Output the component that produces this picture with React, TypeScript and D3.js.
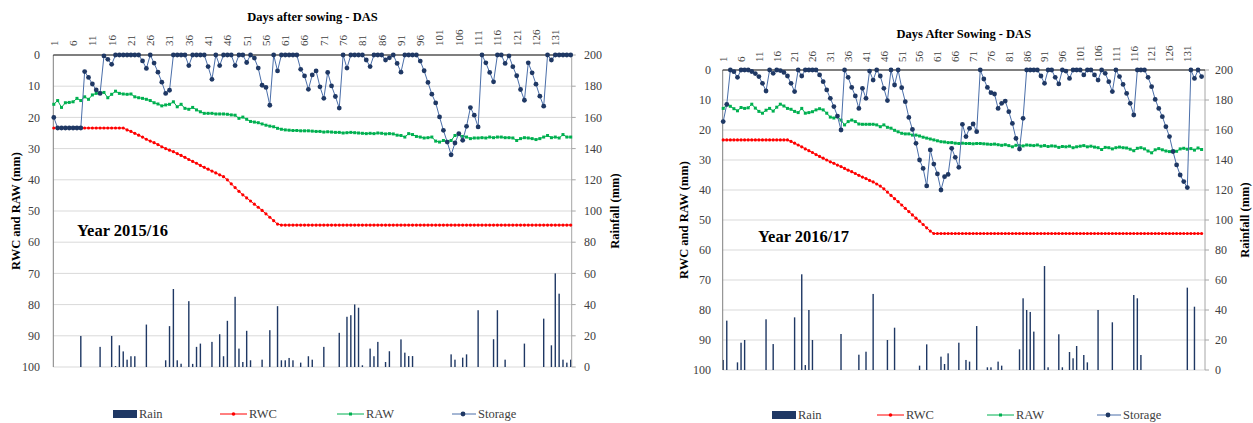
import * as d3 from "d3";

// ---- Year 2015/16 (left chart) ----
// Storage on the rainfall axis (mm, 0-200)
const storage2015 = [
  160, 153.2, 153.2, 153.2, 153.2, 153.2, 153.2, 153.2, 189.4, 185.6,
  181.4, 177.6, 175.4, 199.4, 197.2, 194, 200, 200, 200, 200,
  200, 200, 200, 196.2, 191.4, 200, 194.8, 189, 182.6, 175.4,
  177.4, 200, 200, 200, 200, 193.2, 200, 200, 200, 200,
  192.6, 184.4, 200, 193.2, 200, 200, 200, 193.2, 200, 200,
  195.2, 200, 198, 191.6, 180.6, 179.2, 167.8, 200, 189.8, 200,
  200, 200, 200, 200, 190.8, 186.6, 178, 187.2, 189.8, 179.6,
  172.2, 188.8, 180.2, 173.4, 166, 200, 191.6, 200, 200, 200,
  200, 196.8, 192.6, 200, 200, 200, 196.8, 198.2, 200, 194.6,
  189, 200, 200, 200, 200, 196.1, 189.9, 182.4, 174.9, 169.3,
  160.3, 151.7, 144.2, 136, 143.6, 149.6, 145.3, 154.3, 166.3, 161.4,
  153.9, 200, 195, 188.8, 182.8, 200, 200, 194.6, 199.4, 192.5,
  186.7, 177.9, 171, 195, 188.6, 181.3, 173.6, 167.2, 200, 196.8,
  200, 200, 200, 200, 200,
];
// RWC and RAW on the depth axis (mm, 0-100 downwards)
const rwc2015 = [
  23.4, 23.4, 23.4, 23.4, 23.4, 23.4, 23.4, 23.4, 23.4, 23.4,
  23.4, 23.4, 23.4, 23.4, 23.4, 23.4, 23.4, 23.4, 23.4, 24.0,
  24.5, 25.1, 25.7, 26.3, 27.0, 27.6, 28.1, 28.7, 29.4, 30.0,
  30.5, 31.0, 31.6, 32.2, 32.8, 33.5, 34.1, 34.7, 35.4, 36.0,
  36.6, 37.2, 37.8, 38.4, 39.0, 40.0, 41.3, 42.5, 43.7, 44.8,
  45.8, 46.8, 47.8, 48.8, 49.8, 50.9, 52.0, 53.1, 54.2, 54.5,
  54.5, 54.5, 54.5, 54.5, 54.5, 54.5, 54.5, 54.5, 54.5, 54.5,
  54.5, 54.5, 54.5, 54.5, 54.5, 54.5, 54.5, 54.5, 54.5, 54.5,
  54.5, 54.5, 54.5, 54.5, 54.5, 54.5, 54.5, 54.5, 54.5, 54.5,
  54.5, 54.5, 54.5, 54.5, 54.5, 54.5, 54.5, 54.5, 54.5, 54.5,
  54.5, 54.5, 54.5, 54.5, 54.5, 54.5, 54.5, 54.5, 54.5, 54.5,
  54.5, 54.5, 54.5, 54.5, 54.5, 54.5, 54.5, 54.5, 54.5, 54.5,
  54.5, 54.5, 54.5, 54.5, 54.5, 54.5, 54.5, 54.5, 54.5, 54.5,
  54.5, 54.5, 54.5, 54.5, 54.5,
];
const raw2015 = [
  15.8, 14.6, 16.8, 15.3, 15.2, 15.0, 13.9, 14.6, 13.4, 14.2,
  12.8, 12.3, 12.1, 12.0, 13.7, 12.6, 11.6, 12.3, 12.5, 12.6,
  12.5, 13.4, 13.7, 13.9, 14.2, 14.6, 15.3, 15.7, 16.3, 16.0,
  15.8, 15.0, 16.6, 15.8, 17.1, 17.4, 16.8, 17.6, 18.2, 18.7,
  18.7, 18.7, 18.9, 18.9, 18.9, 19.0, 19.2, 19.3, 20.3, 19.9,
  20.6, 21.3, 21.5, 21.7, 22.1, 22.5, 22.8, 23.0, 23.5, 23.8,
  24.0, 24.1, 24.2, 24.2, 24.3, 24.3, 24.3, 24.4, 24.5, 24.5,
  24.7, 24.6, 24.7, 24.8, 24.8, 25.0, 24.9, 24.8, 24.9, 25.0,
  25.1, 25.2, 25.1, 25.2, 25.0, 25.1, 25.3, 25.2, 25.3, 25.7,
  25.8, 26.3, 25.2, 25.5, 26.1, 26.3, 26.6, 26.5, 26.3, 27.6,
  27.9, 27.4, 27.7, 27.4, 25.8, 25.5, 26.1, 26.3, 26.8, 26.6,
  26.6, 26.5, 26.6, 26.3, 26.5, 26.3, 26.3, 26.5, 26.5, 26.6,
  27.4, 26.8, 26.5, 26.6, 26.8, 27.1, 26.8, 26.3, 25.8, 26.5,
  26.3, 26.6, 25.5, 26.3, 26.3,
];
const rainDay2015 = [
  8, 13, 16, 17, 18, 19, 20, 21, 22, 25, 30, 31, 32, 33, 34, 36, 37, 38, 39, 42,
  44, 45, 46, 48, 49, 50, 51, 52, 55, 57, 59, 60, 61, 62, 63, 65, 67, 68, 71, 75,
  77, 78, 79, 80, 81, 83, 84, 85, 87, 88, 91, 92, 93, 94, 104, 105, 107, 108, 111, 115,
  116, 118, 123, 128, 130, 131, 132, 133, 134, 135,
];
const rainMm2015 = [
  19.9, 12.9, 19.9, 0.6, 13.9, 10, 4.7, 6.9, 6.9, 27.2, 4.3, 26.2, 50, 4.3, 2.1, 42.2, 2, 12.9, 15, 16.1,
  21, 6.9, 29.6, 45, 11.8, 3.2, 23.2, 4.3, 4.7, 23.6, 39, 4.3, 4.3, 5.8, 4.3, 2.8, 6.9, 4.7, 12.9, 21.9,
  32.2, 33.2, 40.1, 38, 1.1, 11.8, 6.9, 16.1, 3.2, 10.1, 17.7, 9.2, 7, 7, 8.1, 4.7, 6, 8.1, 36.4, 17.8,
  36.4, 4.7, 15, 31, 13.9, 60, 47, 4.7, 2.8, 4.7,
];

// ---- Year 2016/17 (right chart) ----
const storage2016 = [
  165.6, 177.1, 200, 198.9, 195.1, 200, 200, 200, 199, 197.6,
  195.6, 191.1, 186, 200, 197.8, 200, 199.6, 198.4, 196, 191.1,
  185.6, 200, 196, 200, 200, 200, 200, 196.7, 192.2, 186.7,
  181.1, 175.6, 169.3, 160, 200, 195.1, 188.4, 182.7, 174.4, 187.8,
  181.1, 199.3, 193.3, 200, 196, 187.8, 179.6, 200, 190, 200,
  188.2, 178.9, 168.4, 160.4, 151.1, 140, 134.4, 122.7, 146.7, 137.3,
  130.7, 120, 128.9, 130.4, 147.8, 141.8, 135.1, 163.8, 155.6, 161.1,
  164, 158.9, 200, 194, 188.4, 184.9, 184, 174.4, 177.8, 179.3,
  172.2, 164.4, 154.4, 147.3, 167.8, 200, 200, 200, 200, 196,
  191.1, 200, 200, 195.1, 190.7, 200, 199.3, 194.4, 200, 200,
  200, 196.7, 200, 200, 196.7, 193.3, 200, 197.8, 192.2, 185.6,
  200, 195.6, 190.4, 184.4, 177.8, 170, 200, 200, 200, 195.1,
  188.9, 180.4, 174.4, 168.9, 162.2, 155.6, 145.6, 136.7, 130, 125.6,
  121.6, 200, 194.4, 200, 195.6,
];
const rwc2016 = [
  23.3, 23.3, 23.3, 23.3, 23.3, 23.3, 23.3, 23.3, 23.3, 23.3,
  23.3, 23.3, 23.3, 23.3, 23.3, 23.3, 23.3, 23.3, 23.3, 23.8,
  24.4, 25.0, 25.6, 26.3, 26.9, 27.5, 28.2, 28.8, 29.4, 30.0,
  30.6, 31.1, 31.7, 32.2, 32.8, 33.4, 33.9, 34.5, 35.1, 35.7,
  36.2, 36.8, 37.3, 38.0, 38.7, 39.6, 40.7, 41.8, 42.9, 43.9,
  45.0, 46.1, 47.2, 48.3, 49.4, 50.4, 51.5, 52.6, 53.7, 54.5,
  54.5, 54.5, 54.5, 54.5, 54.5, 54.5, 54.5, 54.5, 54.5, 54.5,
  54.5, 54.5, 54.5, 54.5, 54.5, 54.5, 54.5, 54.5, 54.5, 54.5,
  54.5, 54.5, 54.5, 54.5, 54.5, 54.5, 54.5, 54.5, 54.5, 54.5,
  54.5, 54.5, 54.5, 54.5, 54.5, 54.5, 54.5, 54.5, 54.5, 54.5,
  54.5, 54.5, 54.5, 54.5, 54.5, 54.5, 54.5, 54.5, 54.5, 54.5,
  54.5, 54.5, 54.5, 54.5, 54.5, 54.5, 54.5, 54.5, 54.5, 54.5,
  54.5, 54.5, 54.5, 54.5, 54.5, 54.5, 54.5, 54.5, 54.5, 54.5,
  54.5, 54.5, 54.5, 54.5, 54.5,
];
const raw2016 = [
  12.8, 11.7, 12.1, 12.9, 13.6, 12.5, 12.8, 12.6, 11.4, 12.7,
  13.8, 14.4, 13.4, 12.8, 13.7, 12.4, 11.4, 12.0, 12.8, 13.1,
  13.8, 14.2, 12.8, 14.4, 14.2, 13.9, 13.3, 12.9, 13.3, 14.4,
  15.7, 16.0, 15.6, 16.7, 18.3, 17.2, 16.7, 17.2, 18.0, 18.1,
  18.1, 18.1, 18.1, 18.3, 18.9, 18.3, 19.1, 19.4, 20.1, 20.6,
  21.1, 21.3, 21.3, 21.7, 21.7, 22.0, 22.4, 22.7, 23.0, 23.3,
  23.6, 23.9, 24.0, 24.2, 24.2, 24.4, 24.5, 24.4, 24.5, 24.5,
  24.6, 24.5, 24.5, 24.6, 24.7, 24.8, 24.7, 24.9, 25.1, 24.9,
  25.2, 25.6, 25.1, 25.2, 25.3, 25.0, 25.1, 25.2, 25.0, 25.4,
  25.2, 25.5, 25.3, 25.4, 25.8, 25.5, 25.6, 25.4, 25.9, 25.6,
  25.4, 25.2, 25.6, 25.4, 25.7, 25.9, 26.5, 25.8, 25.9, 26.3,
  25.9, 25.7, 25.9, 26.0, 26.4, 26.9, 26.1, 25.9, 26.3, 27.0,
  27.6, 26.6, 26.2, 26.6, 27.0, 27.2, 26.9, 27.1, 26.3, 26.1,
  26.4, 26.2, 26.7, 26.0, 26.5,
];
const rainDay2016 = [
  1, 2, 5, 6, 7, 13, 15, 21, 23, 24, 25, 26, 34, 39, 41, 43, 47, 49, 56, 58,
  62, 63, 64, 67, 69, 70, 72, 75, 76, 78, 79, 84, 85, 86, 87, 88, 91, 92, 95, 96,
  98, 99, 100, 102, 103, 106, 110, 116, 117, 118, 131, 133,
];
const rainMm2016 = [
  6.7, 32.9, 5.1, 18.2, 20, 33.8, 17.3, 35.1, 63.8, 3.3, 40, 20, 24, 10.2, 12.2, 50.7, 20, 28.2, 2.9, 17.1,
  8.9, 4, 11.1, 18.2, 6.7, 5.6, 29.3, 1.8, 1.8, 5.6, 2.9, 13.8, 47.8, 40, 38.7, 25.6, 69.3, 1.8, 23.8, 1.8,
  12, 7.8, 16, 10, 5.1, 40, 31.8, 50, 47.8, 10, 54.9, 42.2,
];

const dasTicks = [1, 6, 11, 16, 21, 26, 31, 36, 41, 46, 51, 56, 61, 66, 71, 76, 81, 86, 91, 96, 101, 106, 111, 116, 121, 126, 131];
const depthTicks = [0, 10, 20, 30, 40, 50, 60, 70, 80, 90, 100];
const rainTicks = [0, 20, 40, 60, 80, 100, 120, 140, 160, 180, 200];

const SERIF = "Liberation Serif, Times New Roman, serif";
const C_RAIN = "#1F3864";
const C_RWC = "#FF0000";
const C_RAW = "#00B050";
const C_STO_LINE = "#4A6EA9";
const C_STO_MARK = "#1F3864";
const C_TXT = "#404040";

function Panel({ storage, rwc, raw, rainDay, rainMm, title, year, g }) {
  const days = storage.map((_, i) => i + 1);
  const x = d3.scalePoint().domain(days).range([g.x0, g.x1]);
  const yL = d3.scaleLinear().domain([0, 100]).range([g.top, g.bottom]);
  const yR = d3.scaleLinear().domain([0, 200]).range([g.bottom, g.top]);

  const lineL = d3.line().x((_, i) => x(i + 1)).y((d) => yL(d));
  const lineR = d3.line().x((_, i) => x(i + 1)).y((d) => yR(d));

  const midY = (g.top + g.bottom) / 2;
  const legText = (xx, label) => (
    <text x={xx} y={g.legY} dy="0.33em" fontFamily={SERIF} fontSize={12.5} fill={C_TXT}>{label}</text>
  );

  return (
    <g>
      {/* gridlines */}
      {depthTicks.slice(1).map((t) => (
        <line key={t} x1={g.left} x2={g.right} y1={yL(t)} y2={yL(t)} stroke="#d9d9d9" strokeWidth={1} />
      ))}
      {/* rain bars */}
      {rainDay.map((d, i) => (
        <rect key={d} x={x(d) - 0.7} width={1.4} y={yR(rainMm[i])} height={yR(0) - yR(rainMm[i])} fill={C_RAIN} />
      ))}
      {/* axes */}
      <line x1={g.left} x2={g.left} y1={g.top} y2={g.bottom} stroke="#7f7f7f" />
      <line x1={g.right} x2={g.right} y1={g.top} y2={g.bottom} stroke="#a6a6a6" />
      {rainTicks.map((t) => (
        <line key={t} x1={g.right} x2={g.right + 4} y1={yR(t)} y2={yR(t)} stroke="#a6a6a6" />
      ))}
      <line x1={g.left} x2={g.right} y1={g.top} y2={g.top} stroke="#000" strokeWidth={1.2} />

      {/* RWC */}
      <path d={lineL(rwc)} fill="none" stroke={C_RWC} strokeWidth={1} />
      {rwc.map((v, i) => (
        <circle key={i} cx={x(i + 1)} cy={yL(v)} r={1.6} fill={C_RWC} />
      ))}
      {/* RAW */}
      <path d={lineL(raw)} fill="none" stroke={C_RAW} strokeWidth={1} />
      {raw.map((v, i) => (
        <rect key={i} x={x(i + 1) - 1.5} y={yL(v) - 1.5} width={3} height={3} fill={C_RAW} />
      ))}
      {/* Storage */}
      <path d={lineR(storage)} fill="none" stroke={C_STO_LINE} strokeWidth={1} />
      {storage.map((v, i) => (
        <circle key={i} cx={x(i + 1)} cy={yR(v)} r={2.4} fill={C_STO_MARK} />
      ))}

      {/* tick labels */}
      {depthTicks.map((t) => (
        <text key={"l" + t} x={g.leftLabel} y={yL(t)} dy="0.35em" textAnchor="end"
          fontFamily={SERIF} fontSize={12} fill={C_TXT}>{t}</text>
      ))}
      {rainTicks.map((t) => (
        <text key={"r" + t} x={g.rightLabel} y={yR(t)} dy="0.35em" textAnchor="start"
          fontFamily={SERIF} fontSize={12} fill={C_TXT}>{t}</text>
      ))}
      {dasTicks.map((t) => (
        <text key={"d" + t} transform={`translate(${x(t)},${g.top - g.topGap}) rotate(-90)`} dy="0.35em" textAnchor="start"
          fontFamily={SERIF} fontSize={11} fill={C_TXT}>{t}</text>
      ))}

      {/* titles */}
      <text x={(g.left + g.right) / 2} y={g.titleY} textAnchor="middle" fontFamily={SERIF} fontWeight="bold" fontSize={12.5} fill="#000">{title}</text>
      <text transform={`translate(${g.leftTitleX},${midY}) rotate(-90)`} textAnchor="middle" fontFamily={SERIF} fontWeight="bold" fontSize={12.5} fill="#000">RWC and RAW (mm)</text>
      <text transform={`translate(${g.rightTitleX},${midY}) rotate(-90)`} textAnchor="middle" fontFamily={SERIF} fontWeight="bold" fontSize={12.5} fill="#000">Rainfall (mm)</text>
      <text x={g.yearX} y={g.yearY} fontFamily={SERIF} fontWeight="bold" fontSize={16.5} fill="#000">{year}</text>

      {/* legend */}
      <rect x={g.leg[0]} y={g.legY - 4} width={24} height={8} fill={C_RAIN} />
      {legText(g.leg[0] + 26, "Rain")}
      <line x1={g.leg[1]} x2={g.leg[1] + 27} y1={g.legY} y2={g.legY} stroke={C_RWC} />
      <circle cx={g.leg[1] + 13.5} cy={g.legY} r={1.8} fill={C_RWC} />
      {legText(g.leg[1] + 29, "RWC")}
      <line x1={g.leg[2]} x2={g.leg[2] + 27} y1={g.legY} y2={g.legY} stroke={C_RAW} />
      <rect x={g.leg[2] + 12} y={g.legY - 1.5} width={3} height={3} fill={C_RAW} />
      {legText(g.leg[2] + 29, "RAW")}
      <line x1={g.leg[3]} x2={g.leg[3] + 24} y1={g.legY} y2={g.legY} stroke={C_STO_LINE} />
      <circle cx={g.leg[3] + 11} cy={g.legY} r={2.4} fill={C_STO_MARK} />
      {legText(g.leg[3] + 26, "Storage")}
    </g>
  );
}

const geomLeft = {
  left: 53.3, right: 571.7, x0: 53.8, x1: 570.7, top: 55, bottom: 367,
  leftLabel: 40, rightLabel: 584, topGap: 9, titleY: 21,
  leftTitleX: 20, rightTitleX: 619, yearX: 77, yearY: 236,
  legY: 414, leg: [113, 220, 337, 452],
};
const geomRight = {
  left: 722.7, right: 1205, x0: 723.2, x1: 1201.6, top: 70, bottom: 370,
  leftLabel: 711, rightLabel: 1215, topGap: 8, titleY: 38,
  leftTitleX: 688, rightTitleX: 1249, yearX: 758, yearY: 242,
  legY: 415, leg: [772, 877, 987, 1097],
};

export default function App() {
  return (
    <svg width={1253} height={423} style={{ position: "absolute", left: 0, top: 0, background: "#fff" }}>
      <rect width={1253} height={423} fill="#fff" />
      <Panel storage={storage2015} rwc={rwc2015} raw={raw2015} rainDay={rainDay2015} rainMm={rainMm2015}
        title="Days after sowing - DAS" year="Year 2015/16" g={geomLeft} />
      <Panel storage={storage2016} rwc={rwc2016} raw={raw2016} rainDay={rainDay2016} rainMm={rainMm2016}
        title="Days After Sowing - DAS" year="Year 2016/17" g={geomRight} />
    </svg>
  );
}
